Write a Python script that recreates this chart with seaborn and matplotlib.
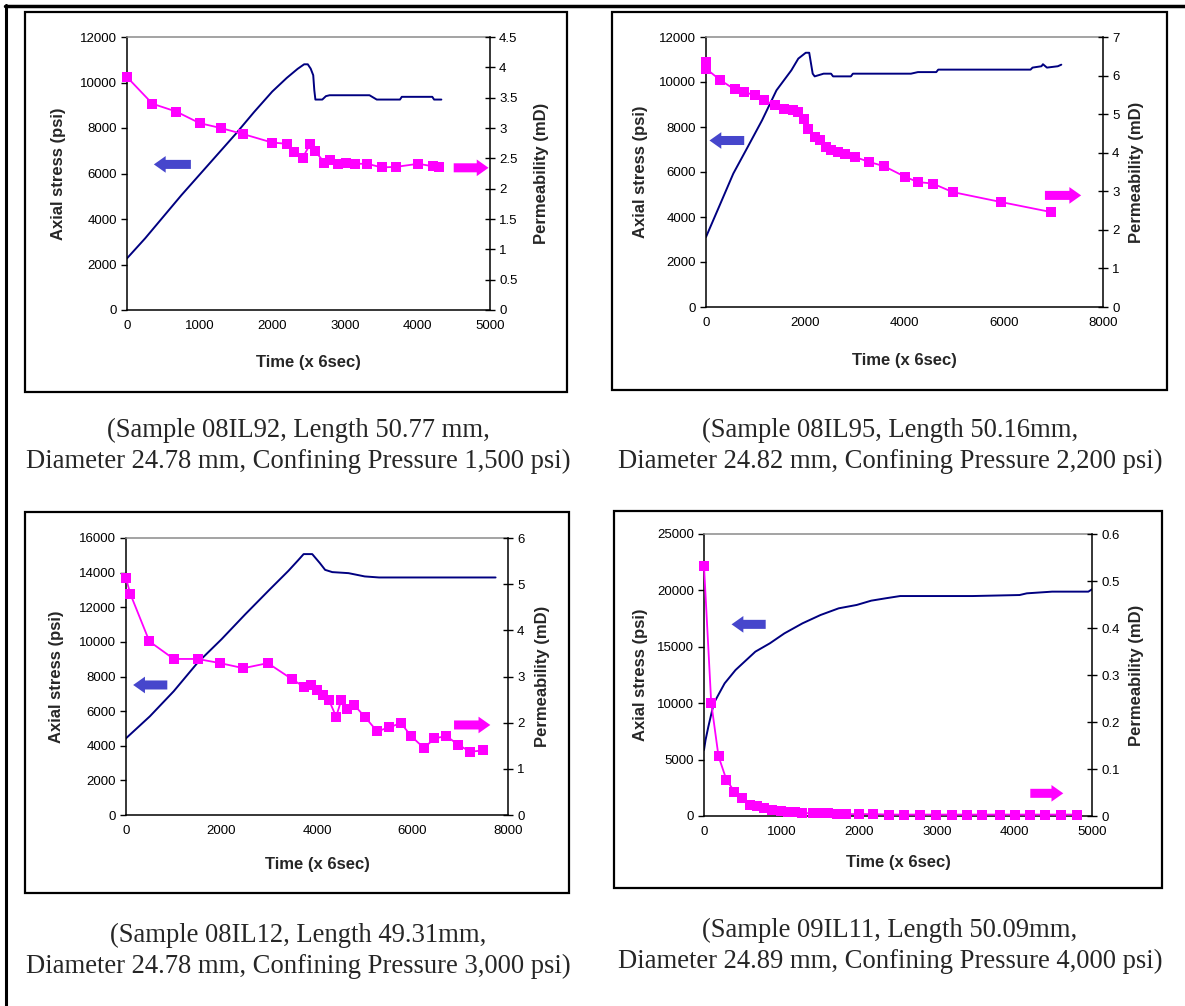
import matplotlib
matplotlib.use("Agg")
import matplotlib.pyplot as plt
import pandas as pd
import seaborn as sns
from matplotlib.lines import Line2D
from matplotlib.patches import Rectangle
from matplotlib.ticker import FuncFormatter, MultipleLocator

# Sample 08IL92
p1_stress_time = [0, 250, 500, 750, 1000, 1250, 1500, 1750, 2000, 2200, 2350, 2440, 2490, 2530,
                  2565, 2580, 2595, 2690, 2740, 2790, 3340, 3440, 3760, 3785, 4205, 4230, 4330]
p1_stress = [2270, 3150, 4100, 5050, 5950, 6850, 7750, 8700, 9600, 10200, 10600, 10800, 10800,
             10610, 10320, 9660, 9250, 9250, 9400, 9440, 9440, 9250, 9250, 9370, 9370, 9250, 9250]
p1_perm_time = [0, 350, 680, 1000, 1290, 1600, 2000, 2200, 2300, 2420, 2520, 2590, 2720, 2790,
                2910, 3010, 3140, 3310, 3510, 3710, 4010, 4210, 4300]
p1_perm = [3.84, 3.40, 3.27, 3.08, 3.00, 2.90, 2.76, 2.74, 2.61, 2.51, 2.73, 2.62, 2.43, 2.48,
           2.41, 2.43, 2.41, 2.41, 2.35, 2.36, 2.41, 2.37, 2.35]

# Sample 08IL95
p2_stress_time = [0, 260, 550, 840, 1130, 1420, 1720, 1860, 2010, 2080, 2150, 2190, 2370, 2520,
                  2560, 2920, 2960, 4130, 4270, 4640, 4680, 6540, 6580, 6760, 6790, 6870, 7090, 7160]
p2_stress = [3110, 4440, 5930, 7110, 8300, 9630, 10520, 11040, 11300, 11300, 10370, 10250, 10370,
             10370, 10250, 10250, 10370, 10370, 10440, 10440, 10550, 10550, 10640, 10700, 10790,
             10640, 10700, 10770]
p2_perm_time = [0, 0, 290, 580, 770, 990, 1170, 1390, 1570, 1750, 1860, 1970, 2050, 2190, 2300,
                2410, 2520, 2670, 2810, 3000, 3290, 3590, 4020, 4270, 4570, 4970, 5950, 6960]
p2_perm = [6.35, 6.18, 5.88, 5.64, 5.57, 5.49, 5.36, 5.23, 5.14, 5.10, 5.06, 4.88, 4.62, 4.41,
           4.32, 4.15, 4.08, 4.02, 3.96, 3.89, 3.76, 3.65, 3.37, 3.24, 3.20, 2.98, 2.72, 2.46]

# Sample 08IL12
p3_stress_time = [0, 500, 1000, 1500, 2000, 2500, 3000, 3400, 3600, 3720, 3900, 4060, 4170, 4320,
                  4660, 5000, 5300, 7740]
p3_stress = [4430, 5700, 7150, 8800, 10150, 11600, 13000, 14100, 14700, 15070, 15070, 14550,
             14160, 14030, 13970, 13780, 13720, 13720]
p3_perm_time = [0, 90, 490, 1000, 1500, 1970, 2460, 2970, 3480, 3720, 3870, 4000, 4130, 4250,
                4400, 4510, 4620, 4770, 5000, 5260, 5510, 5760, 5970, 6240, 6460, 6710, 6960,
                7210, 7480]
p3_perm = [5.13, 4.79, 3.76, 3.38, 3.38, 3.29, 3.18, 3.29, 2.94, 2.78, 2.82, 2.70, 2.60, 2.49,
           2.13, 2.49, 2.30, 2.39, 2.13, 1.81, 1.90, 1.99, 1.71, 1.45, 1.66, 1.71, 1.52, 1.37, 1.40]

# Sample 09IL11
p4_stress_time = [0, 20, 56, 126, 196, 266, 336, 406, 522, 662, 849, 1036, 1269, 1502, 1735,
                  1968, 2155, 2341, 2528, 2994, 3461, 4067, 4160, 4487, 4953, 5000]
p4_stress = [5850, 6740, 7920, 9990, 10880, 11760, 12350, 12940, 13680, 14570, 15310, 16190,
             17080, 17820, 18410, 18710, 19090, 19300, 19500, 19500, 19500, 19590, 19740, 19890,
             19890, 20100]
p4_perm_time = [0, 93, 187, 289, 392, 485, 593, 686, 779, 872, 989, 1082, 1175, 1268, 1408, 1502,
                1595, 1712, 1828, 1991, 2178, 2388, 2575, 2785, 2995, 3191, 3391, 3578, 3811,
                4011, 4207, 4394, 4604, 4804]
p4_perm = [0.532, 0.241, 0.127, 0.077, 0.052, 0.038, 0.023, 0.021, 0.018, 0.013, 0.011, 0.009,
           0.009, 0.006, 0.006, 0.007, 0.006, 0.004, 0.004, 0.004, 0.004, 0.003, 0.003, 0.003,
           0.003, 0.003, 0.003, 0.003, 0.003, 0.003, 0.003, 0.003, 0.003, 0.003]

captions = [
    "(Sample 08IL92, Length 50.77 mm,\nDiameter 24.78 mm, Confining Pressure 1,500 psi)",
    "(Sample 08IL95, Length 50.16mm,\nDiameter 24.82 mm, Confining Pressure 2,200 psi)",
    "(Sample 08IL12, Length 49.31mm,\nDiameter 24.78 mm, Confining Pressure 3,000 psi)",
    "(Sample 09IL11, Length 50.09mm,\nDiameter 24.89 mm, Confining Pressure 4,000 psi)",
]

W, H = 1185, 1006

# layout in pixels (left, top, right, bottom), limits, arrows in left-axis data units
panels = [
    dict(st=p1_stress_time, s=p1_stress, pt=p1_perm_time, p=p1_perm,
         axes=(127, 37, 490, 310), frame=(25, 12, 567, 392), xmax=5000, xstep=1000,
         ymax=12000, ystep=2000, pmax=4.5, pstep=0.5, ylab_x=58, plab_x=541, xlab_y=362,
         blue=((880, 6400), (370, 6400)), pink=((4500, 6250), (4980, 6250)),
         cap=(298, 446)),
    dict(st=p2_stress_time, s=p2_stress, pt=p2_perm_time, p=p2_perm,
         axes=(706, 37, 1103, 307), frame=(612, 12, 1167, 390), xmax=8000, xstep=2000,
         ymax=12000, ystep=2000, pmax=7, pstep=1, ylab_x=641, plab_x=1137, xlab_y=360,
         blue=((770, 7400), (70, 7400)), pink=((6830, 4960), (7560, 4960)),
         cap=(890, 446)),
    dict(st=p3_stress_time, s=p3_stress, pt=p3_perm_time, p=p3_perm,
         axes=(126, 538, 508, 815), frame=(25, 512, 569, 893), xmax=8000, xstep=2000,
         ymax=16000, ystep=2000, pmax=6, pstep=1, ylab_x=57, plab_x=542, xlab_y=865,
         blue=((865, 7510), (150, 7510)), pink=((6870, 5200), (7630, 5200)),
         cap=(298, 951)),
    dict(st=p4_stress_time, s=p4_stress, pt=p4_perm_time, p=p4_perm,
         axes=(704, 534, 1092, 816), frame=(614, 511, 1162, 888), xmax=5000, xstep=1000,
         ymax=25000, ystep=5000, pmax=0.6, pstep=0.1, ylab_x=641, plab_x=1137, xlab_y=862,
         blue=((795, 16990), (355, 16990)), pink=((4205, 2010), (4630, 2010)),
         cap=(890, 946)),
]

sns.set_style("white")
plt.rcParams["font.family"] = ["Liberation Sans", "DejaVu Sans"]

fig = plt.figure(figsize=(W / 100, H / 100), dpi=100)


def fig_box(left, top, right, bottom):
    return [left / W, 1 - bottom / H, (right - left) / W, (bottom - top) / H]


arrow_style = "simple,head_length=0.85,head_width=1.2,tail_width=0.65"

for p, cap in zip(panels, captions):
    left, top, right, bottom = p["axes"]
    ax = fig.add_axes(fig_box(left, top, right, bottom))
    ax2 = ax.twinx()

    stress_df = pd.DataFrame({"Time": p["st"], "Stress": p["s"]})
    perm_df = pd.DataFrame({"Time": p["pt"], "Perm": p["p"]})
    sns.lineplot(data=stress_df, x="Time", y="Stress", color="#000080", lw=1.4,
                 estimator=None, sort=False, ax=ax)
    sns.lineplot(data=perm_df, x="Time", y="Perm", color="#FF00FF", lw=1.3, marker="s",
                 markersize=7.5, markeredgewidth=0, estimator=None, sort=False,
                 clip_on=False, ax=ax2)

    ax.set_xlim(0, p["xmax"])
    ax.set_ylim(0, p["ymax"])
    ax2.set_ylim(0, p["pmax"])
    ax.xaxis.set_major_locator(MultipleLocator(p["xstep"]))
    ax.yaxis.set_major_locator(MultipleLocator(p["ystep"]))
    ax2.yaxis.set_major_locator(MultipleLocator(p["pstep"]))
    ax2.yaxis.set_major_formatter(FuncFormatter(lambda v, _: f"{v:g}"))

    for name, sp in ax.spines.items():
        sp.set_linewidth(1.1)
        sp.set_color("black")
    ax.spines["top"].set_color("#8a8a8a")
    ax.spines["right"].set_visible(False)
    for name, sp in ax2.spines.items():
        sp.set_visible(name == "right")
    ax2.spines["right"].set_linewidth(1.1)
    ax2.spines["right"].set_color("black")

    ax.tick_params(axis="both", direction="out", length=4, width=1, labelsize=9.5,
                   colors="black", pad=3)
    ax2.tick_params(axis="y", direction="inout", length=7, width=1, labelsize=9.5,
                    colors="black", pad=3)

    w, h = right - left, bottom - top
    ax.set_xlabel("Time (x 6sec)", fontsize=12, fontweight="bold", va="center")
    ax.xaxis.set_label_coords(0.5, (bottom - p["xlab_y"]) / h)
    ax.set_ylabel("Axial stress (psi)", fontsize=12, fontweight="bold", va="center")
    ax.yaxis.set_label_coords((p["ylab_x"] - left) / w, 0.5)
    ax2.set_ylabel("Permeability (mD)", fontsize=12, fontweight="bold", va="center",
                   rotation=90)
    ax2.yaxis.set_label_coords((p["plab_x"] - left) / w, 0.5)

    for (tail, head), col in [(p["blue"], "#4646CC"), (p["pink"], "#FF00FF")]:
        ax.annotate("", xy=head, xytext=tail,
                    arrowprops=dict(arrowstyle=arrow_style, color=col, mutation_scale=10,
                                    shrinkA=0, shrinkB=0, lw=0),
                    annotation_clip=False)

    fl, ft, fr, fb = p["frame"]
    fig.add_artist(Rectangle((fl / W, 1 - fb / H), (fr - fl) / W, (fb - ft) / H,
                             fill=False, lw=1.6, ec="black", transform=fig.transFigure))

    cx, cy = p["cap"]
    fig.text(cx / W, 1 - cy / H, cap, ha="center", va="center", fontsize=19.2,
             family=["Liberation Serif"], linespacing=1.3)

# outer table lines
fig.add_artist(Line2D([5.5 / W, 5.5 / W], [0, 1 - 5 / H], lw=2.2, color="black"))
fig.add_artist(Line2D([5 / W, 1], [1 - 6 / H, 1 - 6 / H], lw=2.5, color="black"))

fig.savefig("out.png", dpi=100)
